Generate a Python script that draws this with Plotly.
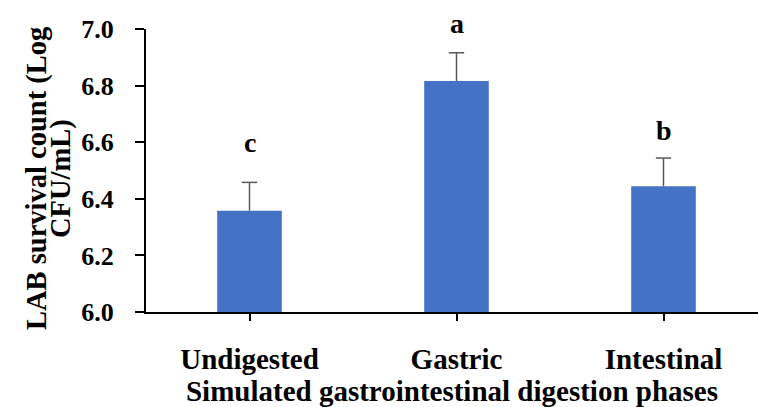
import plotly.graph_objects as go

# LAB survival across simulated digestion phases
phases = ["Undigested", "Gastric", "Intestinal"]
survival = [6.358, 6.816, 6.444]
sd = [0.10, 0.10, 0.10]
letters = ["c", "a", "b"]
letter_y = [6.600, 7.020, 6.643]

FONT = "Palatino Linotype, Book Antiqua, Palatino, Liberation Serif, serif"
Y_MIN, Y_MAX = 6.0, 7.0
PLOT_H = 283  # pixel height of the plotting area

fig = go.Figure()
fig.add_trace(go.Bar(
    x=phases,
    y=survival,
    width=0.312,
    marker=dict(color="#4472C4", line=dict(width=0)),
    error_y=dict(type="data", array=sd, arrayminus=[0] * len(sd), symmetric=False,
                 color="#595959", thickness=1.5, width=0),
))
# caps on the upper end of each error bar
fig.add_trace(go.Scatter(
    x=phases,
    y=[s + e for s, e in zip(survival, sd)],
    mode="markers",
    marker=dict(symbol="line-ew", size=11, line=dict(color="#595959", width=1.5)),
    hoverinfo="skip",
))

for p, t, ly in zip(phases, letters, letter_y):
    y_in = min(ly, Y_MAX)
    fig.add_annotation(x=p, y=y_in, yshift=(ly - y_in) * PLOT_H / (Y_MAX - Y_MIN),
                       text="<b>%s</b>" % t, showarrow=False,
                       xanchor="center", yanchor="middle",
                       font=dict(family=FONT, size=28, color="black"))

# two-line y-axis title
for line, xs in [("LAB survival count (Log", 37), ("CFU/mL)", 61)]:
    fig.add_annotation(xref="paper", yref="paper", x=0, y=0.47, xshift=xs - 146,
                       text="<b>%s</b>" % line, textangle=-90, showarrow=False,
                       xanchor="center", yanchor="middle",
                       font=dict(family=FONT, size=28.5, color="black"))

fig.update_layout(
    width=758, height=407,
    margin=dict(l=146, r=0, t=29, b=95),
    paper_bgcolor="white", plot_bgcolor="white",
    showlegend=False,
    font=dict(family=FONT, color="black"),
)
fig.update_xaxes(
    range=[-0.5, 2.4565],
    showline=True, linecolor="black", linewidth=2,
    ticks="outside", ticklen=7, tickwidth=1.5, tickcolor="black",
    tickfont=dict(family=FONT, size=29, color="black", weight="bold"),
    ticklabelstandoff=13,
    title=dict(text="<b>Simulated gastrointestinal digestion phases</b>",
               font=dict(family=FONT, size=29, color="black"), standoff=9),
    showgrid=False, zeroline=False,
)
fig.update_yaxes(
    range=[Y_MIN, Y_MAX], tickvals=[6.0, 6.2, 6.4, 6.6, 6.8, 7.0], tickformat=".1f",
    showline=True, linecolor="black", linewidth=2,
    ticks="outside", ticklen=9, tickwidth=1.5, tickcolor="black",
    tickfont=dict(family=FONT, size=26, color="black", weight="bold"),
    ticklabelstandoff=16,
    showgrid=False, zeroline=False,
)

fig.write_html("out.html")
